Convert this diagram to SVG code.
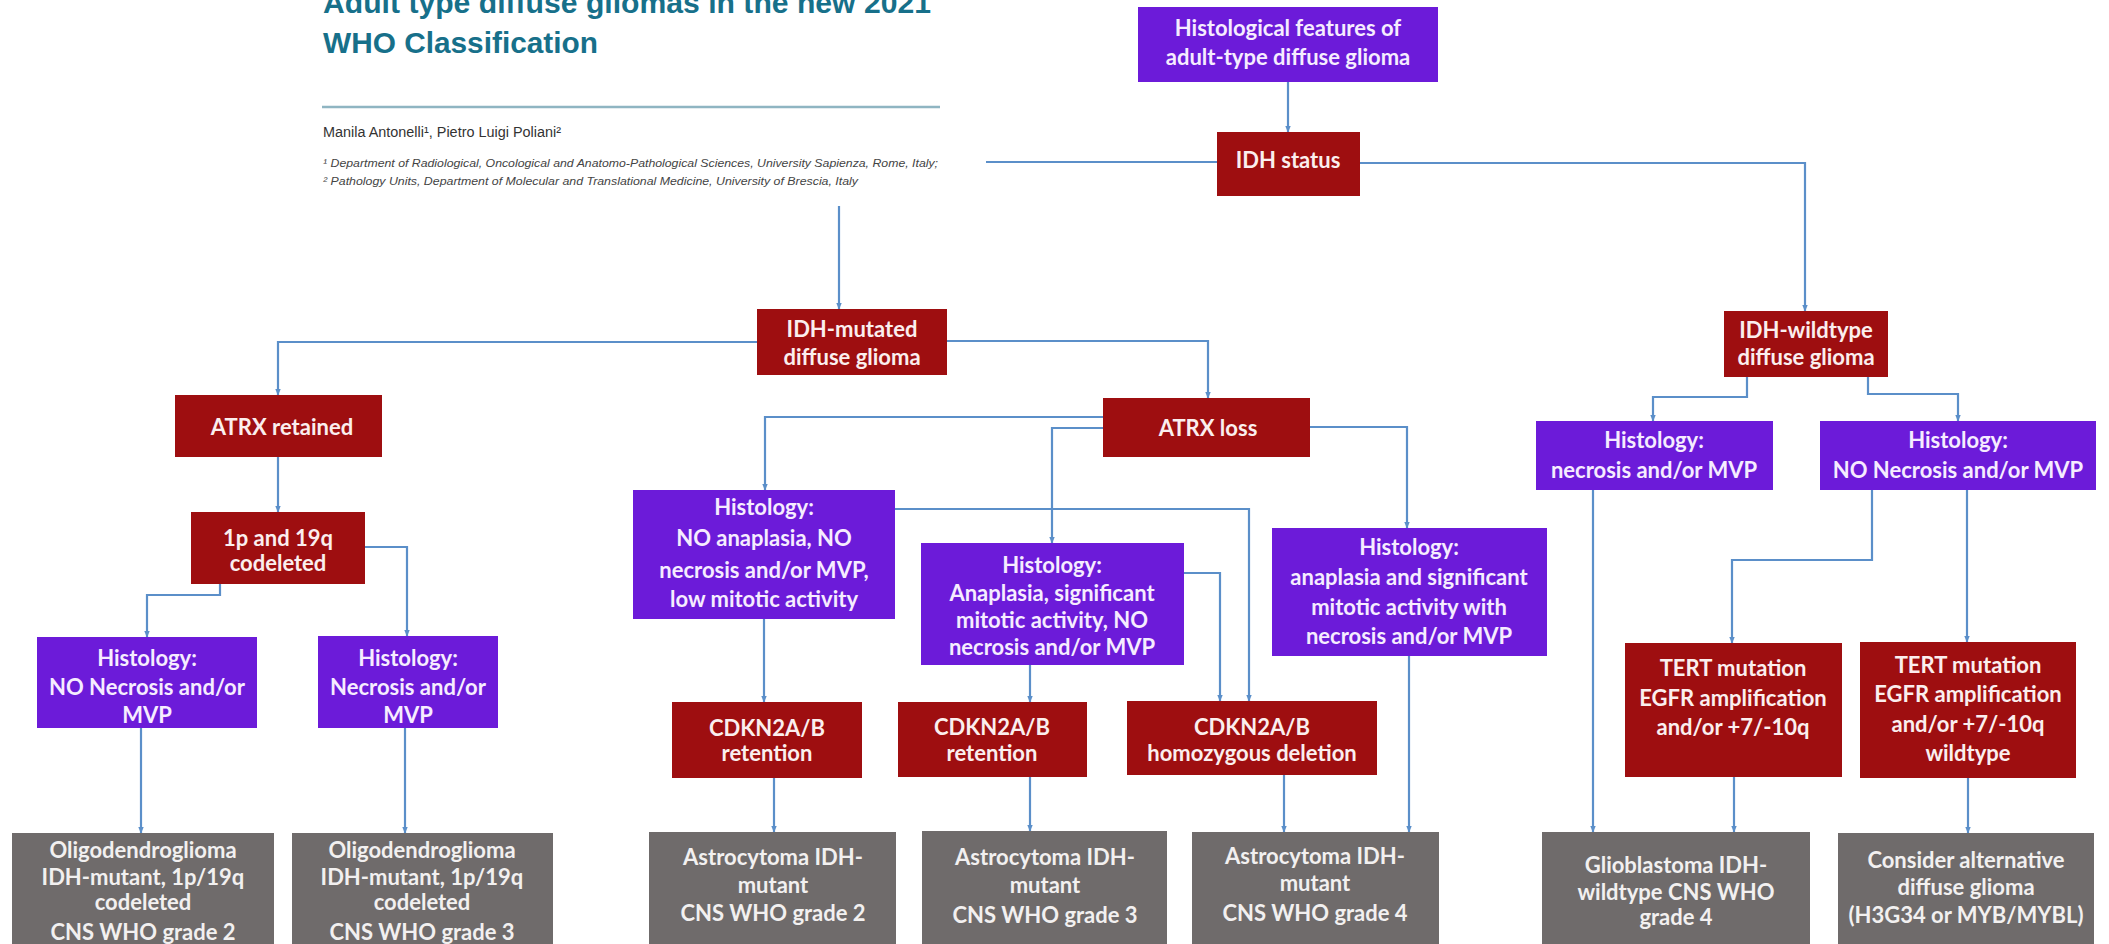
<svg xmlns="http://www.w3.org/2000/svg" width="2109" height="944" viewBox="0 0 2109 944">
<defs>
<marker id="ah" viewBox="0 0 10 10" refX="9" refY="5" markerWidth="7" markerHeight="7" markerUnits="userSpaceOnUse" orient="auto">
<path d="M0,1 L10,5 L0,9 z" fill="#5b8fc9"/>
</marker>
<style>
.bg{fill:#ffffff}
.pu{fill:#6c1bd9}
.rd{fill:#9e0e10}
.gy{fill:#6f6b6b}
.t{font-family:Lato,"Open Sans","Liberation Sans",sans-serif;font-weight:bold;font-size:22px;text-anchor:middle}
.tp{fill:#f6ecff}
.tr{fill:#fbeeee}
.tg{fill:#f2f0f0}
.c{fill:none;stroke:#5b8fc9;stroke-width:2.2;marker-end:url(#ah)}
.cn{fill:none;stroke:#5b8fc9;stroke-width:2.2}
.hd{font-family:"Liberation Sans Narrow","Liberation Sans",Arial,sans-serif}
</style>
</defs>
<rect class="bg" x="0" y="0" width="2109" height="944"/>

<g id="header">
<text class="hd" x="323" y="13" font-size="29" font-weight="bold" fill="#17708a" textLength="608" lengthAdjust="spacingAndGlyphs">Adult type diffuse gliomas in the new 2021</text>
<text class="hd" x="323" y="53" font-size="29" font-weight="bold" fill="#17708a" textLength="275" lengthAdjust="spacingAndGlyphs">WHO Classification</text>
<line x1="322" y1="107" x2="940" y2="107" stroke="#8fb5c2" stroke-width="2.5"/>
<text class="hd" x="323" y="137" font-size="14" fill="#333333" textLength="238" lengthAdjust="spacingAndGlyphs">Manila Antonelli¹, Pietro Luigi Poliani²</text>
<text class="hd" x="323" y="167" font-size="11.5" font-style="italic" fill="#444444" textLength="615" lengthAdjust="spacingAndGlyphs">¹ Department of Radiological, Oncological and Anatomo-Pathological Sciences, University Sapienza, Rome, Italy;</text>
<text class="hd" x="323" y="185" font-size="11.5" font-style="italic" fill="#444444" textLength="535" lengthAdjust="spacingAndGlyphs">² Pathology Units, Department of Molecular and Translational Medicine, University of Brescia, Italy</text>
</g>

<g id="connectors">
<path class="c" d="M1288,82 V132"/>
<path class="cn" d="M986,162 H1217"/>
<path class="c" d="M839,206 V309"/>
<path class="c" d="M1360,163 H1805 V311"/>
<path class="c" d="M757,342 H278 V395"/>
<path class="c" d="M947,341 H1208 V398"/>
<path class="c" d="M1103,417 H765 V490"/>
<path class="c" d="M1103,428 H1052 V543"/>
<path class="c" d="M1310,427 H1407 V528"/>
<path class="c" d="M278,457 V512"/>
<path class="c" d="M220,584 V595 H147 V637"/>
<path class="c" d="M365,547 H407 V636"/>
<path class="c" d="M141,728 V833"/>
<path class="c" d="M405,728 V833"/>
<path class="c" d="M764,619 V702"/>
<path class="c" d="M895,509 H1249 V701"/>
<path class="c" d="M1184,573 H1220 V701"/>
<path class="c" d="M1030,665 V702"/>
<path class="c" d="M774,778 V832"/>
<path class="c" d="M1030,777 V831"/>
<path class="c" d="M1284,775 V832"/>
<path class="c" d="M1409,656 V832"/>
<path class="c" d="M1747,377 V397 H1653 V421"/>
<path class="c" d="M1868,377 V394 H1958 V421"/>
<path class="c" d="M1593,490 V832"/>
<path class="c" d="M1872,490 V560 H1732 V643"/>
<path class="c" d="M1967,490 V642"/>
<path class="c" d="M1734,777 V832"/>
<path class="c" d="M1968,778 V833"/>
</g>

<g id="n-histfeatures"><rect class="pu" x="1138" y="7" width="300" height="75"/>
<text class="t tp" x="1288" y="36">Histological features of</text>
<text class="t tp" x="1288" y="65">adult-type diffuse glioma</text></g>

<g id="n-idhstatus"><rect class="rd" x="1217" y="132" width="143" height="64"/>
<text class="t tr" x="1288" y="168">IDH status</text></g>

<g id="n-idhwt"><rect class="rd" x="1724" y="311" width="164" height="66"/>
<text class="t tr" x="1806" y="338">IDH-wildtype</text>
<text class="t tr" x="1806" y="365">diffuse glioma</text></g>

<g id="n-idhmut"><rect class="rd" x="757" y="309" width="190" height="66"/>
<text class="t tr" x="852" y="337">IDH-mutated</text>
<text class="t tr" x="852" y="365">diffuse glioma</text></g>

<g id="n-atrxret"><rect class="rd" x="175" y="395" width="207" height="62"/>
<text class="t tr" x="282" y="435">ATRX retained</text></g>

<g id="n-atrxloss"><rect class="rd" x="1103" y="398" width="207" height="59"/>
<text class="t tr" x="1208" y="436">ATRX loss</text></g>

<g id="n-codel"><rect class="rd" x="191" y="512" width="174" height="72"/>
<text class="t tr" x="278" y="546">1p and 19q</text>
<text class="t tr" x="278" y="571">codeleted</text></g>

<g id="n-hist-nonecr-l"><rect class="pu" x="37" y="637" width="220" height="91"/>
<text class="t tp" x="147" y="666">Histology:</text>
<text class="t tp" x="147" y="695">NO Necrosis and/or</text>
<text class="t tp" x="147" y="723">MVP</text></g>

<g id="n-hist-necr-l"><rect class="pu" x="318" y="636" width="180" height="92"/>
<text class="t tp" x="408" y="666">Histology:</text>
<text class="t tp" x="408" y="695">Necrosis and/or</text>
<text class="t tp" x="408" y="723">MVP</text></g>

<g id="n-oligo2"><rect class="gy" x="12" y="833" width="262" height="130"/>
<text class="t tg" x="143" y="858">Oligodendroglioma</text>
<text class="t tg" x="143" y="885">IDH-mutant, 1p/19q</text>
<text class="t tg" x="143" y="910">codeleted</text>
<text class="t tg" x="143" y="940">CNS WHO grade 2</text></g>

<g id="n-oligo3"><rect class="gy" x="292" y="833" width="261" height="130"/>
<text class="t tg" x="422" y="858">Oligodendroglioma</text>
<text class="t tg" x="422" y="885">IDH-mutant, 1p/19q</text>
<text class="t tg" x="422" y="910">codeleted</text>
<text class="t tg" x="422" y="940">CNS WHO grade 3</text></g>

<g id="n-hist-noana"><rect class="pu" x="633" y="490" width="262" height="129"/>
<text class="t tp" x="764" y="515">Histology:</text>
<text class="t tp" x="764" y="546">NO anaplasia, NO</text>
<text class="t tp" x="764" y="578">necrosis and/or MVP,</text>
<text class="t tp" x="764" y="607">low mitotic activity</text></g>

<g id="n-hist-ana"><rect class="pu" x="921" y="543" width="263" height="122"/>
<text class="t tp" x="1052" y="573">Histology:</text>
<text class="t tp" x="1052" y="601">Anaplasia, significant</text>
<text class="t tp" x="1052" y="628">mitotic activity, NO</text>
<text class="t tp" x="1052" y="655">necrosis and/or MVP</text></g>

<g id="n-hist-ananecr"><rect class="pu" x="1272" y="528" width="275" height="128"/>
<text class="t tp" x="1409" y="555">Histology:</text>
<text class="t tp" x="1409" y="585">anaplasia and significant</text>
<text class="t tp" x="1409" y="615">mitotic activity with</text>
<text class="t tp" x="1409" y="644">necrosis and/or MVP</text></g>

<g id="n-hist-necr-r"><rect class="pu" x="1536" y="421" width="237" height="69"/>
<text class="t tp" x="1654" y="448">Histology:</text>
<text class="t tp" x="1654" y="478">necrosis and/or MVP</text></g>

<g id="n-hist-nonecr-r"><rect class="pu" x="1820" y="421" width="276" height="69"/>
<text class="t tp" x="1958" y="448">Histology:</text>
<text class="t tp" x="1958" y="478">NO Necrosis and/or MVP</text></g>

<g id="n-cdkn-ret1"><rect class="rd" x="672" y="702" width="190" height="76"/>
<text class="t tr" x="767" y="736">CDKN2A/B</text>
<text class="t tr" x="767" y="761">retention</text></g>

<g id="n-cdkn-ret2"><rect class="rd" x="898" y="702" width="189" height="75"/>
<text class="t tr" x="992" y="735">CDKN2A/B</text>
<text class="t tr" x="992" y="761">retention</text></g>

<g id="n-cdkn-del"><rect class="rd" x="1127" y="701" width="250" height="74"/>
<text class="t tr" x="1252" y="735">CDKN2A/B</text>
<text class="t tr" x="1252" y="761">homozygous deletion</text></g>

<g id="n-tert1"><rect class="rd" x="1625" y="643" width="217" height="134"/>
<text class="t tr" x="1733" y="676">TERT mutation</text>
<text class="t tr" x="1733" y="706">EGFR amplification</text>
<text class="t tr" x="1733" y="735">and/or +7/-10q</text></g>

<g id="n-tert2"><rect class="rd" x="1860" y="642" width="216" height="136"/>
<text class="t tr" x="1968" y="673">TERT mutation</text>
<text class="t tr" x="1968" y="702">EGFR amplification</text>
<text class="t tr" x="1968" y="732">and/or +7/-10q</text>
<text class="t tr" x="1968" y="761">wildtype</text></g>

<g id="n-astro2"><rect class="gy" x="649" y="832" width="247" height="130"/>
<text class="t tg" x="773" y="865">Astrocytoma IDH-</text>
<text class="t tg" x="773" y="893">mutant</text>
<text class="t tg" x="773" y="921">CNS WHO grade 2</text></g>

<g id="n-astro3"><rect class="gy" x="922" y="831" width="245" height="130"/>
<text class="t tg" x="1045" y="865">Astrocytoma IDH-</text>
<text class="t tg" x="1045" y="893">mutant</text>
<text class="t tg" x="1045" y="923">CNS WHO grade 3</text></g>

<g id="n-astro4"><rect class="gy" x="1192" y="832" width="247" height="130"/>
<text class="t tg" x="1315" y="864">Astrocytoma IDH-</text>
<text class="t tg" x="1315" y="891">mutant</text>
<text class="t tg" x="1315" y="921">CNS WHO grade 4</text></g>

<g id="n-gbm"><rect class="gy" x="1542" y="832" width="268" height="130"/>
<text class="t tg" x="1676" y="873">Glioblastoma IDH-</text>
<text class="t tg" x="1676" y="900">wildtype CNS WHO</text>
<text class="t tg" x="1676" y="925">grade 4</text></g>

<g id="n-alt"><rect class="gy" x="1838" y="833" width="256" height="130"/>
<text class="t tg" x="1966" y="868">Consider alternative</text>
<text class="t tg" x="1966" y="895">diffuse glioma</text>
<text class="t tg" x="1966" y="923">(H3G34 or MYB/MYBL)</text></g>
</svg>
